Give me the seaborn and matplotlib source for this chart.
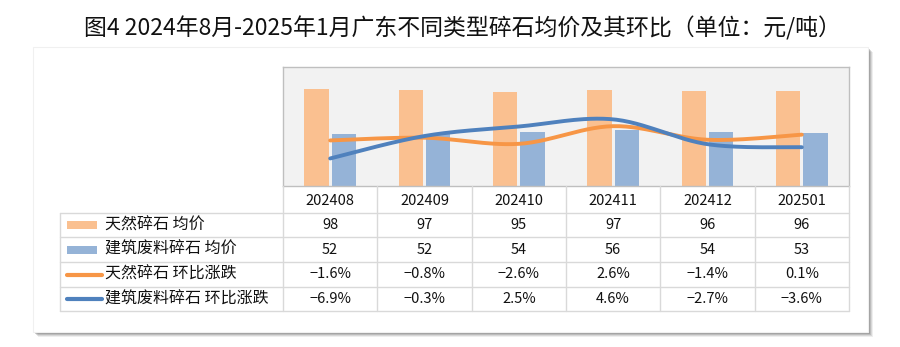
import numpy as np
import pandas as pd
import matplotlib
matplotlib.use("Agg")
import matplotlib.pyplot as plt
from matplotlib.patches import Rectangle
import seaborn as sns

# ---- data ----
months = ["202408", "202409", "202410", "202411", "202412", "202501"]
natural_price = [98, 97, 95, 97, 96, 96]
recycled_price = [52, 52, 54, 56, 54, 53]
natural_mom = [-1.6, -0.8, -2.6, 2.6, -1.4, 0.1]
recycled_mom = [-6.9, -0.3, 2.5, 4.6, -2.7, -3.6]

series_labels = ["天然碎石 均价", "建筑废料碎石 均价", "天然碎石 环比涨跌", "建筑废料碎石 环比涨跌"]
title = "图4 2024年8月-2025年1月广东不同类型碎石均价及其环比（单位：元/吨）"

C_NAT_BAR = "#FAC090"
C_REC_BAR = "#95B3D7"
C_NAT_LINE = "#F79646"
C_REC_LINE = "#4F81BD"
GRID = "#D9D9D9"

sns.set_style("white")
plt.rcParams["font.family"] = ["Noto Sans CJK SC", "DejaVu Sans"]
plt.rcParams["axes.unicode_minus"] = False

W, H = 900, 347
fig = plt.figure(figsize=(W / 100, H / 100), dpi=100)


def fx(px):
    return px / W


def fy(py):
    return 1 - py / H


# card with soft drop shadow
for k, a in enumerate([0.10, 0.16, 0.22, 0.30]):
    off = 5 - k
    fig.patches.append(Rectangle((fx(33 + off), fy(332 + off)), fx(868 - 33), (332 - 47) / H,
                                 transform=fig.transFigure, facecolor="#606060",
                                 edgecolor="none", alpha=a, zorder=0))
fig.patches.append(Rectangle((fx(33), fy(332)), fx(868 - 33), (332 - 47) / H,
                             transform=fig.transFigure, facecolor="white",
                             edgecolor="#F0F0F0", lw=0.8, zorder=0.5))

fig.text(fx(462), fy(28), title, ha="center", va="center", fontsize=16.5, color="#111111")

# ---- chart area ----
plot_l, plot_r, plot_t, plot_b = 283, 849, 67, 186
ax = fig.add_axes([fx(plot_l), fy(plot_b), fx(plot_r - plot_l), (plot_b - plot_t) / H])
ax.set_zorder(2)

df = pd.DataFrame({
    "month": months * 2,
    "price": natural_price + recycled_price,
    "series": [series_labels[0]] * len(months) + [series_labels[1]] * len(months),
})
sns.barplot(data=df, x="month", y="price", hue="series", order=months,
            hue_order=series_labels[:2], palette=[C_NAT_BAR, C_REC_BAR],
            width=0.58, gap=0.1, saturation=1, legend=False, ax=ax,
            linewidth=0, edgecolor="none", zorder=2)
ax.set_facecolor("#F2F2F2")
ax.set_xlim(-0.5, len(months) - 0.5)
ax.set_ylim(0, 120)
ax.set_xticks([])
ax.set_yticks([])
ax.set_xlabel("")
ax.set_ylabel("")
for s in ax.spines.values():
    s.set_color("#BFBFBF")
    s.set_linewidth(1.0)


def smooth(xs, ys, n=30):
    """Bezier smoothing through the points (Catmull-Rom style tangents)."""
    xs = np.asarray(xs, float)
    ys = np.asarray(ys, float)
    px = np.concatenate([[xs[0]], xs, [xs[-1]]])
    py = np.concatenate([[ys[0]], ys, [ys[-1]]])
    outx, outy = [], []
    t = np.linspace(0, 1, n)
    for i in range(1, len(px) - 2):
        p0 = np.array([px[i], py[i]])
        p3 = np.array([px[i + 1], py[i + 1]])
        c1 = p0 + (np.array([px[i + 1], py[i + 1]]) - np.array([px[i - 1], py[i - 1]])) / 6
        c2 = p3 - (np.array([px[i + 2], py[i + 2]]) - np.array([px[i], py[i]])) / 6
        b = ((1 - t) ** 3)[:, None] * p0 + (3 * (1 - t) ** 2 * t)[:, None] * c1 \
            + (3 * (1 - t) * t ** 2)[:, None] * c2 + (t ** 3)[:, None] * p3
        outx.extend(b[:, 0])
        outy.extend(b[:, 1])
    return np.array(outx), np.array(outy)


ax2 = ax.twinx()
xpos = np.arange(len(months))
for vals, col in [(natural_mom, C_NAT_LINE), (recycled_mom, C_REC_LINE)]:
    sx, sy = smooth(xpos, vals)
    sns.lineplot(x=sx, y=sy, sort=False, color=col, lw=2.8, ax=ax2,
                 solid_capstyle="round", estimator=None)
ax2.set_ylim(-15, 20)
ax2.set_yticks([])
ax2.set_ylabel("")
for s in ax2.spines.values():
    s.set_visible(False)

# ---- data table ----
rows_y = [186, 213, 237, 262, 287, 311]
tab_l = 60
col_w = (plot_r - plot_l) / len(months)
lab_w = (plot_l - tab_l) / col_w
tx = fig.add_axes([fx(tab_l), fy(rows_y[-1]), fx(plot_r - tab_l), (rows_y[-1] - rows_y[0]) / H])
tx.set_zorder(3)
tx.patch.set_alpha(0)
tx.set_xlim(-0.5 - lab_w, len(months) - 0.5)
tx.set_ylim(rows_y[-1], rows_y[0])
tx.axis("off")

for i in range(len(months) + 1):
    tx.plot([i - 0.5, i - 0.5], [rows_y[0], rows_y[-1]], color=GRID, lw=1.0, clip_on=False)
tx.plot([-0.5 - lab_w] * 2, [rows_y[1], rows_y[-1]], color=GRID, lw=1.0, clip_on=False)
for y in rows_y[1:]:
    tx.plot([-0.5 - lab_w, len(months) - 0.5], [y, y], color=GRID, lw=1.0, clip_on=False)


def mid(r):
    return (rows_y[r] + rows_y[r + 1]) / 2


for i, m in enumerate(months):
    tx.text(i, mid(0) + 1, m, ha="center", va="center", fontsize=10.5, color="#111111")

fmt_rows = [
    [str(v) for v in natural_price],
    [str(v) for v in recycled_price],
    ["\u2212%.1f%%" % abs(v) if v < 0 else "%.1f%%" % v for v in natural_mom],
    ["\u2212%.1f%%" % abs(v) if v < 0 else "%.1f%%" % v for v in recycled_mom],
]
for r, vals in enumerate(fmt_rows):
    for i, v in enumerate(vals):
        tx.text(i, mid(r + 1), v, ha="center", va="center", fontsize=10.5, color="#111111")

# legend keys and series names in the first column
px_unit = 1 / col_w
key_x0 = -0.5 - lab_w + 7 * px_unit
for r, (lab, col, kind) in enumerate(zip(series_labels,
                                         [C_NAT_BAR, C_REC_BAR, C_NAT_LINE, C_REC_LINE],
                                         ["bar", "bar", "line", "line"])):
    yc = mid(r + 1)
    if kind == "bar":
        tx.add_patch(Rectangle((key_x0, yc - 4), 30 * px_unit, 8, facecolor=col,
                               edgecolor="none", clip_on=False))
    else:
        tx.plot([key_x0, key_x0 + 35 * px_unit], [yc, yc], color=col, lw=3,
                solid_capstyle="round", clip_on=False)
    tx.text(key_x0 + 38 * px_unit, yc, lab, ha="left", va="center", fontsize=11.5,
            color="#111111")

fig.savefig("out.png", dpi=100, facecolor="white")
